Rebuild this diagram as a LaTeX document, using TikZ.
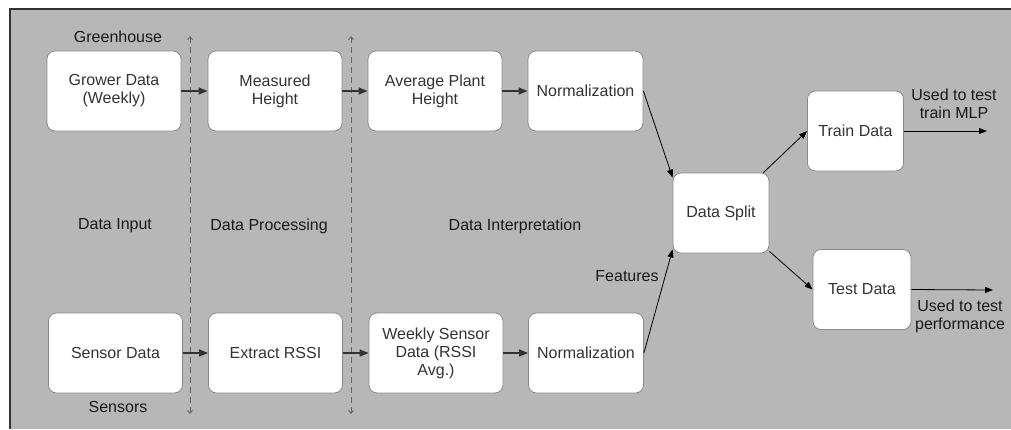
\documentclass[tikz,border=0pt]{standalone}
\usepackage{fontspec}
\setmainfont{Liberation Sans}
\usetikzlibrary{positioning, arrows.meta}

\definecolor{bggray}{HTML}{B7B7B7}
\definecolor{boxline}{HTML}{8A8A8A}
\definecolor{boxtext}{HTML}{333333}
\definecolor{flowline}{HTML}{333333}

\begin{document}
\begin{tikzpicture}[
        x=1pt, y=-1pt,
        font=\fontsize{16}{18}\selectfont,
        stage/.style={rectangle, rounded corners=8pt, draw=boxline, fill=white, line width=0.8pt,
                      minimum width=134pt, minimum height=80pt, align=center, text=boxtext, inner sep=2pt},
        small/.style={stage, minimum width=96pt},
        flow/.style={-{Triangle[length=9pt, width=7pt]}, line width=1.4pt, flowline},
        split/.style={-{Triangle[length=8pt, width=6pt]}, line width=0.8pt, black},
        divider/.style={{Straight Barb[length=3pt, width=5pt]}-{Straight Barb[length=3pt, width=5pt]},
                        dash pattern=on 6pt off 4pt, line width=0.9pt, black!60},
        tag/.style={align=center, text=black!90}
    ]

        % --- CANVAS ---
        \useasboundingbox (0,0) rectangle (1011,429);
        \fill[bggray] (10,9) rectangle (1011,429);
        \draw[black!80, line width=2pt] (10,429) -- (10,9) -- (1011,9);

        % --- PHASE DIVIDERS ---
        \coordinate (div1top) at (190,36);
        \coordinate (div1bot) at (190,414);
        \coordinate (div2top) at (351,36);
        \coordinate (div2bot) at (351,414);
        \draw[divider] (div1top) -- (div1bot);
        \draw[divider] (div2top) -- (div2bot);

        % --- PHASE LABELS ---
        \node[tag] (lblin) at (115,226) {Data Input};
        \node[tag] (lblproc) at (269,226) {Data Processing};
        \node[tag] (lblinterp) at (515,226) {Data Interpretation};
        \node[tag] (lblgreen) at (118,37) {Greenhouse};
        \node[tag] (lblsens) at (118,407) {Sensors};

        % --- GREENHOUSE ROW ---
        \node[stage] (grower) at (114,91) {Grower Data\\(Weekly)};
        \node[stage] (measured) at (275,91) {Measured\\Height};
        \node[stage] (avgheight) at (435,91) {Average Plant\\Height};
        \node[stage, minimum width=115pt] (normtop) at (585.5,91) {Normalization};

        % --- SENSOR ROW ---
        \node[stage] (sensor) at (115.5,353) {Sensor Data};
        \node[stage] (rssi) at (275.5,353) {Extract RSSI};
        \node[stage] (weekly) at (436,353) {Weekly Sensor\\Data (RSSI\\Avg.)};
        \node[stage, minimum width=115pt] (normbot) at (586,353) {Normalization};

        % --- SPLIT AND OUTPUTS ---
        \node[small] (datasplit) at (721,213) {Data Split};
        \node[small] (train) at (855.5,131) {Train Data};
        \node[small, minimum width=98pt] (test) at (862,289.5) {Test Data};
        \coordinate (trainout) at (987,131);
        \coordinate (testout) at (993,290);

        % --- CONNECTIONS ---
        \draw[flow] (grower) -- (measured);
        \draw[flow] (measured) -- (avgheight);
        \draw[flow] (avgheight) -- (normtop);
        \draw[flow] (sensor) -- (rssi);
        \draw[flow] (rssi) -- (weekly);
        \draw[flow] (weekly) -- (normbot);

        \draw[split] (normtop.east) -- ([yshift=-5pt]datasplit.north west);
        \draw[split] (normbot.east) -- ([yshift=4pt]datasplit.south west);
        \node[tag] (lblfeat) at (627,276) {Features};

        \draw[split] ([xshift=-6pt]datasplit.north east) -- (train.west);
        \draw[split] ([yshift=2pt]datasplit.south east) -- (test.west);

        \draw[split] (train.east) -- (trainout);
        \node[tag] (lbltrain) at (954,104) {Used to test\\train MLP};
        \draw[split] (test.east) -- (testout);
        \node[tag] (lbltest) at (960,316) {Used to test\\performance};

    \end{tikzpicture}
\end{document}
